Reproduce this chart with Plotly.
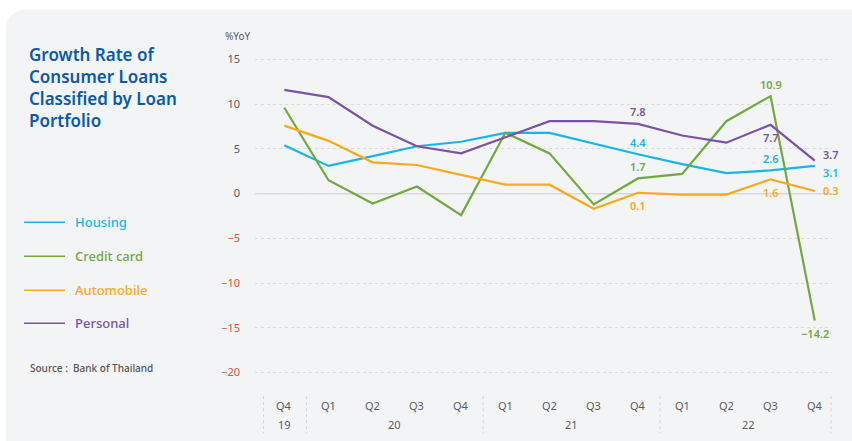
import plotly.graph_objects as go

# ---------------- data ----------------
quarters = ["Q4", "Q1", "Q2", "Q3", "Q4", "Q1", "Q2", "Q3", "Q4", "Q1", "Q2", "Q3", "Q4"]
years = ["19", "20", "21", "22"]
year_spans = [(0, 0), (1, 4), (5, 8), (9, 12)]

housing = [5.4, 3.1, 4.2, 5.3, 5.8, 6.8, 6.8, 5.6, 4.4, 3.3, 2.3, 2.6, 3.1]
credit_card = [9.6, 1.5, -1.1, 0.8, -2.4, 6.8, 4.5, -1.2, 1.7, 2.2, 8.1, 10.9, -14.2]
automobile = [7.6, 5.9, 3.5, 3.2, 2.1, 1.0, 1.0, -1.7, 0.1, -0.1, -0.1, 1.6, 0.3]
personal = [11.6, 10.8, 7.6, 5.3, 4.5, 6.3, 8.1, 8.1, 7.8, 6.5, 5.7, 7.7, 3.7]

series_names = ["Housing", "Credit card", "Automobile", "Personal"]
series_values = [housing, credit_card, automobile, personal]
series_colors = ["#19b5ea", "#72a93f", "#fba91b", "#7a52a6"]

# labelled points: (series index, point index, position)
labelled = [
    (3, 8, "above"), (0, 8, "above"), (1, 8, "above"), (2, 8, "below"),
    (1, 11, "above"), (3, 11, "below"), (0, 11, "above"), (2, 11, "below"),
    (3, 12, "right_up"), (0, 12, "right_down"), (2, 12, "right"), (1, 12, "below"),
]

y_ticks = [15, 10, 5, 0, -5, -10, -15, -20]

# ---------------- layout geometry ----------------
W, H = 852, 441
ML, MR, MT, MB = 255, 20, 54.5, 64.2
PW, PH = W - ML - MR, H - MT - MB
FONT = "Noto Sans"
GRAY = "#5a5a5a"
RED = "#d4553a"
TITLE_BLUE = "#0b5aa6"
CARD = "#f3f4f6"


def px_x(p):
    return (p - ML) / PW


def px_y(p):
    return (H - MB - p) / PH


fig = go.Figure()
x_idx = list(range(len(quarters)))
for name, vals, col in zip(series_names, series_values, series_colors):
    fig.add_trace(go.Scatter(x=x_idx, y=vals, mode="lines", name=name,
                             line=dict(color=col, width=2.2), showlegend=False,
                             hoverinfo="skip"))

shapes = []
# background card with rounded top-left corner
x0, y0, x1, y1 = px_x(6), px_y(9), px_x(W + 2), px_y(H + 2)
rx, ry = 22 / PW, 22 / PH
shapes.append(dict(type="path", xref="paper", yref="paper", layer="below",
                   path=(f"M {x0},{y1} L {x0},{y0 - ry} Q {x0},{y0} {x0 + rx},{y0} "
                         f"L {x1},{y0} L {x1},{y1} Z"),
                   fillcolor=CARD, line=dict(width=0)))
# zero line
shapes.append(dict(type="line", xref="paper", yref="y", x0=0, x1=1, y0=0, y1=0,
                   line=dict(color="#d6d7da", width=1.5), layer="below"))
# x-axis dividers between years
div_positions = [year_spans[0][0] - 0.47] + [s[1] + 0.5 for s in year_spans[:-1]] + [year_spans[-1][1] + 0.37]
for d in div_positions:
    shapes.append(dict(type="line", xref="x", yref="paper", x0=d, x1=d,
                       y0=px_y(396), y1=px_y(433),
                       line=dict(color="#d2d3d6", width=1, dash="dot")))

annotations = []
# x tick labels
for i, q in enumerate(quarters):
    annotations.append(dict(x=i, y=px_y(405), xref="x", yref="paper", text=q,
                            yanchor="middle", showarrow=False,
                            font=dict(family=FONT, size=11, color=GRAY)))
for yr, (a, b) in zip(years, year_spans):
    annotations.append(dict(x=(a + b) / 2, y=px_y(424), xref="x", yref="paper", text=yr,
                            yanchor="middle", showarrow=False,
                            font=dict(family=FONT, size=11, color=GRAY)))

# data labels
for si, pi, pos in labelled:
    v = series_values[si][pi]
    txt = f"{v:.1f}".replace("-", "\u2212")
    a = dict(x=pi, y=v, xref="x", yref="y", text=txt, showarrow=False,
             yanchor="middle",
             font=dict(family=FONT, size=11, color=series_colors[si], weight=600))
    if pos == "above":
        a["yshift"] = 12
    elif pos == "below":
        a["yshift"] = -13
    else:
        a["xanchor"] = "left"
        a["xshift"] = 6
        if pos == "right_up":
            a["yshift"] = 4
            a["yanchor"] = "bottom"
            a["yshift"] = -3
        elif pos == "right_down":
            a["yanchor"] = "top"
            a["yshift"] = 3
    annotations.append(a)

# y axis title
annotations.append(dict(x=px_x(223), y=px_y(35), xref="paper", yref="paper", text="%YoY",
                        yanchor="middle", showarrow=False,
                        font=dict(family=FONT, size=10, color=GRAY)))

# title
annotations.append(dict(x=px_x(27), y=px_y(40), xref="paper", yref="paper",
                        xanchor="left", yanchor="top", align="left",
                        text="Growth Rate of<br>Consumer Loans<br>Classified by Loan<br>Portfolio",
                        showarrow=False,
                        font=dict(family=FONT, size=17, color=TITLE_BLUE, weight=600)))

# custom legend
leg_y = [222, 256, 290, 323]
for name, col, ly in zip(series_names, series_colors, leg_y):
    shapes.append(dict(type="line", xref="paper", yref="paper",
                       x0=px_x(24), x1=px_x(65), y0=px_y(ly), y1=px_y(ly),
                       line=dict(color=col, width=1.5)))
    annotations.append(dict(x=px_x(73), y=px_y(ly), xref="paper", yref="paper",
                            xanchor="left", yanchor="middle", text=name, showarrow=False,
                            font=dict(family=FONT, size=13, color=col, weight=500)))

# source
annotations.append(dict(x=px_x(28), y=px_y(368), xref="paper", yref="paper",
                        xanchor="left", yanchor="middle",
                        text="Source :  Bank of Thailand", showarrow=False,
                        font=dict(family=FONT, size=10, color="#555555", weight=500)))

tick_text = [
    (f"<span style='color:{RED}'>{str(t).replace('-', chr(0x2212))}</span>" if t < 0 else str(t))
    for t in y_ticks
]

fig.update_layout(
    width=W, height=H,
    margin=dict(l=ML, r=MR, t=MT, b=MB),
    paper_bgcolor="white", plot_bgcolor="rgba(0,0,0,0)",
    shapes=shapes, annotations=annotations,
    xaxis=dict(range=[-0.663, 12.39], showgrid=False, zeroline=False,
               showticklabels=False, showline=False, fixedrange=True),
    yaxis=dict(range=[-20.5, 15.5], tickvals=y_ticks, ticktext=tick_text,
               showgrid=True, gridcolor="#d9dadd", griddash="dot", gridwidth=1,
               zeroline=False, showline=False, ticklabelstandoff=14,
               tickfont=dict(family=FONT, size=11, color=GRAY), fixedrange=True),
    showlegend=False,
)

fig.write_html("out.html")
